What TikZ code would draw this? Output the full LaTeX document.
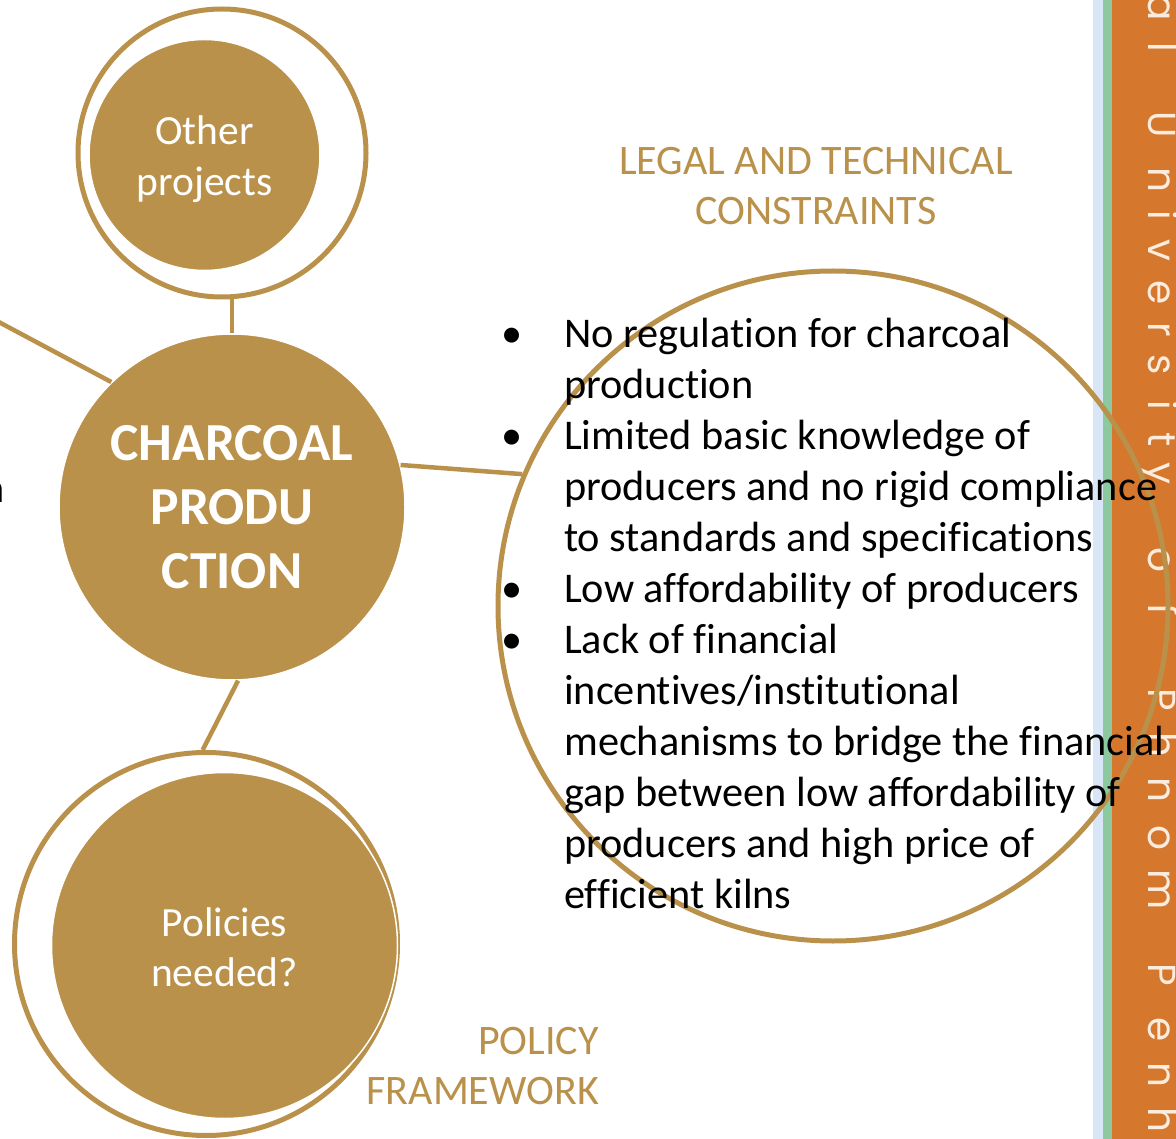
\documentclass[tikz,border=0pt]{standalone}
\usepackage{fontspec}
\setmainfont{Carlito}[Ligatures=NoCommon]
\newfontfamily\stripfont{Poppins}
\definecolor{gold}{RGB}{185,145,74}
\definecolor{stripOrange}{RGB}{213,120,46}
\definecolor{stripGreen}{RGB}{141,201,160}
\definecolor{stripBlue}{RGB}{216,230,247}
\definecolor{stripText}{RGB}{252,236,222}
\begin{document}
\begin{tikzpicture}[x=1pt,y=-1pt,
  link/.style={draw=gold, line width=4.5pt},
  disc/.style={circle, fill=gold, draw=white, line width=1.5pt, inner sep=0pt},
  disctext/.style={text=white, align=center, inner sep=0pt},
  ring/.style={circle, draw=gold, line width=5pt, inner sep=0pt},
  heading/.style={text=gold, align=center, inner sep=0pt,
    font=\fontsize{42}{50}\selectfont},
  bodytext/.style={font=\fontsize{42.3}{51}\selectfont, inner sep=0pt},
  stripletter/.style={rotate=-90, anchor=base, inner sep=0pt, text=stripText,
    font=\stripfont\fontsize{39}{39}\selectfont}
]
\path[use as bounding box] (0,0) rectangle (1176,1139);

% side band of the slide
\fill[stripBlue] (1093,0) rectangle (1103,1139);
\fill[stripGreen] (1103,0) rectangle (1112,1139);
\fill[stripOrange] (1112,0) rectangle (1176,1139);
\foreach \ch/\yy [count=\k] in {a/8, l/47, U/125, n/180, i/215, v/250, e/293,
    r/330, s/365, i/405, t/440, y/473, o/560, f/610, P/700, h/745, n/790,
    o/838, m/890, P/975, e/1030, n/1075, h/1120}
  \node[stripletter] (strip\k) at (1148,\yy) {\ch};

% fragment of a word from the left
\node[bodytext, anchor=base east] (cutword) at (5,503) {a};

% circles
\node[ring, minimum size=288pt] (otherring) at (222,153) {};
\node[disc, minimum size=231pt] (other) at (204.5,155) {};
\node[disctext, font=\fontsize{41.5}{51}\selectfont] (othertext) at (204.5,159)
  {Other\\projects};
\node[disc, minimum size=346pt] (charcoal) at (232,507) {};
\node[disctext, font=\bfseries\fontsize{53.5}{64}\selectfont] (charcoaltext)
  at (232,507) {CHARCOAL\\PRODU\\CTION};
\node[ring, minimum size=383pt] (policyring) at (206,944) {};
\node[disc, minimum size=346pt] (policy) at (224.5,945.5) {};
\node[disctext, font=\fontsize{41.5}{50}\selectfont] (policytext)
  at (224.5,947) {Policies\\needed?};
\node[ring, minimum size=670pt] (constraints) at (833,606) {};

% connectors
\coordinate (leftend) at (-20,312);
\draw[link] (charcoal.north) -- (charcoal.north |- otherring.south);
\draw[link] (charcoal.134.5) -- (leftend);
\draw[link] (charcoal.14.7) -- (constraints.157);
\draw[link] (charcoal.-88.5) -- (policyring.91);

% headings
\node[heading] (legalhead) at (816,186) {LEGAL AND TECHNICAL\\CONSTRAINTS};
\node[heading, align=right, anchor=east] (policyhead) at (599,1066)
  {POLICY\\FRAMEWORK};

% list of constraints
\node[bodytext, anchor=base west] (constraintlist) at (501,348) {%
\begin{tabular}[t]{@{}p{63pt}@{}l@{}}
\textbullet & No regulation for charcoal\\
 & production\\
\textbullet & Limited basic knowledge of\\
 & producers and no rigid compliance\\
 & to standards and specifications\\
\textbullet & Low affordability of producers\\
\textbullet & Lack of financial\\
 & incentives/institutional\\
 & mechanisms to bridge the financial\\
 & gap between low affordability of\\
 & producers and high price of\\
 & efficient kilns
\end{tabular}};
\end{tikzpicture}
\end{document}
